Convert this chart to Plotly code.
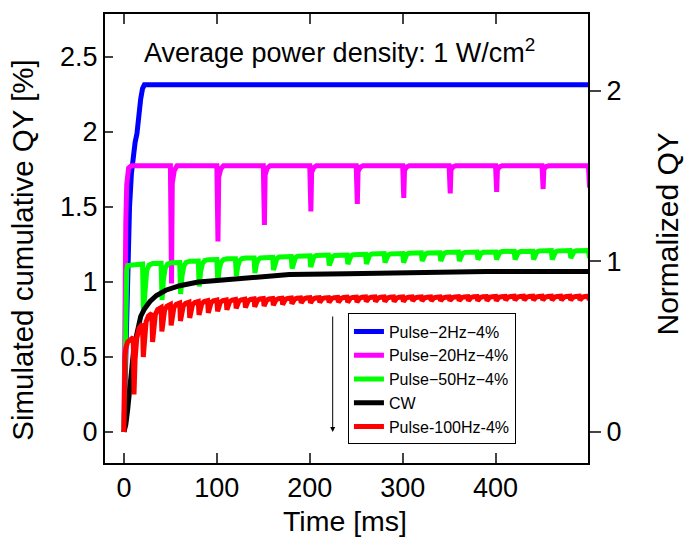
import plotly.graph_objects as go

# ---------------- data ----------------
# Pulse-2Hz-4% (single pulse within 0-500 ms)
t_2hz = [0, 1, 2, 3, 4, 5, 6, 8, 10, 12, 14, 16, 18, 20, 22, 500]
qy_2hz = [0, 0.3, 0.6, 0.9, 1.15, 1.35, 1.5, 1.72, 1.85, 1.93, 1.99, 2.12, 2.22, 2.29, 2.315, 2.315]

# Pulse-20Hz-4%: start-up, then pulses every 50 ms
t_20hz_start = [0, 0.3, 1, 2, 3, 5, 8]
qy_20hz_start = [0, 0.5, 0.95, 1.4, 1.65, 1.76, 1.775]
pulse_20hz = [50, 100, 150, 200, 250, 300, 350, 400, 450, 500]
peak_20hz = [1.775] * 10
dip_20hz = [0.99, 1.27, 1.38, 1.47, 1.52, 1.56, 1.59, 1.60, 1.62, 1.63]

# Pulse-50Hz-4%: pulses every 20 ms
t_50hz_start = [0, 0.3, 1, 2, 3, 4]
qy_50hz_start = [0, 0.15, 0.72, 0.95, 1.08, 1.11]
pulse_50hz = list(range(20, 501, 20))
peak_50hz = [1.12, 1.125, 1.13, 1.14, 1.15, 1.155, 1.16, 1.165, 1.17, 1.175,
             1.18, 1.18, 1.185, 1.19, 1.19, 1.195, 1.195, 1.2, 1.2, 1.2,
             1.205, 1.205, 1.21, 1.21, 1.21]
dip_50hz = [0.80, 0.88, 0.92, 0.97, 1.0, 1.04, 1.06, 1.08, 1.09, 1.10,
            1.11, 1.12, 1.12, 1.13, 1.13, 1.14, 1.14, 1.14, 1.15, 1.15,
            1.15, 1.15, 1.15, 1.16, 1.16]

# CW
t_cw = [0, 2, 4, 6, 8, 10, 12, 15, 18, 22, 28, 35, 45, 60, 80, 100, 135, 178, 240, 300, 388, 390, 500]
qy_cw = [0, 0.05, 0.15, 0.3, 0.42, 0.52, 0.6, 0.7, 0.77, 0.82, 0.87, 0.91, 0.945, 0.975, 1.0,
         1.01, 1.03, 1.05, 1.055, 1.06, 1.062, 1.07, 1.07]

# Pulse-100Hz-4%: pulses every 10 ms
t_100hz_start = [0, 0.4, 1, 2, 4]
qy_100hz_start = [0, 0.35, 0.5, 0.56, 0.6]
pulse_100hz = list(range(10, 501, 10))
peak_100hz = [0.63, 0.72, 0.79, 0.83, 0.85, 0.86, 0.865, 0.87, 0.875, 0.88,
              0.88, 0.883, 0.885, 0.887, 0.89, 0.89, 0.892, 0.893, 0.894, 0.895,
              0.895, 0.896, 0.897, 0.898, 0.899, 0.9, 0.9, 0.9, 0.9, 0.9,
              0.9, 0.9, 0.9, 0.9, 0.9, 0.902, 0.902, 0.903, 0.903, 0.904,
              0.904, 0.905, 0.905, 0.905, 0.905, 0.905, 0.905, 0.905, 0.905, 0.905]
dip_100hz = [0.25, 0.5, 0.6, 0.67, 0.71, 0.74, 0.76, 0.78, 0.795, 0.805,
             0.815, 0.825, 0.83, 0.835, 0.84, 0.845, 0.85, 0.855, 0.86, 0.86,
             0.865, 0.865, 0.865, 0.865, 0.865, 0.87, 0.87, 0.87, 0.87, 0.87,
             0.875, 0.875, 0.875, 0.875, 0.875, 0.875, 0.875, 0.875, 0.875, 0.875,
             0.88, 0.88, 0.88, 0.88, 0.88, 0.88, 0.88, 0.88, 0.88, 0.88]

x_ticks = [0, 100, 200, 300, 400]
y_ticks = [0, 0.5, 1, 1.5, 2, 2.5]
y2_ticks = [0, 1, 2]
norm_factor = 150 / 170.5  # ratio of right-axis to left-axis units

names = ["Pulse\u22122Hz\u22124%", "Pulse\u221220Hz\u22124%", "Pulse\u221250Hz\u22124%", "CW", "Pulse-100Hz-4%"]
colors = ["#0000FF", "#FF00FF", "#00FF00", "#000000", "#FF0000"]


def pulsed(t0, y0, times, peaks, dips, on, shape):
    """Polyline: start-up values, then at each pulse a drop to the read dip
    value and a recovery towards the read value before the next pulse."""
    t, y = list(t0), list(y0)
    for i, tn in enumerate(times):
        p = peaks[i]
        m = dips[i]
        q = peaks[i + 1] if i + 1 < len(peaks) else p
        t.append(tn)
        y.append(p)
        t.append(tn + on)
        y.append(m)
        for dt, frac in shape:
            t.append(tn + on + dt)
            y.append(m + frac * (q - m))
    return t, y


t20, y20 = pulsed(t_20hz_start, qy_20hz_start, pulse_20hz, peak_20hz, dip_20hz, 1.2,
                  [(0.8, 0.85), (3.0, 0.96), (6.0, 1.0)])
t50, y50 = pulsed(t_50hz_start, qy_50hz_start, pulse_50hz, peak_50hz, dip_50hz, 1.0,
                  [(1.5, 0.55), (3.5, 0.85), (6.0, 0.96), (10.0, 0.995)])
t100, y100 = pulsed(t_100hz_start, qy_100hz_start, pulse_100hz, peak_100hz, dip_100hz, 0.8,
                    [(1.2, 0.5), (3.0, 0.8), (5.5, 0.94)])

series = [(t_2hz, qy_2hz), (t20, y20), (t50, y50), (t_cw, qy_cw), (t100, y100)]

fig = go.Figure()
for (tx, ty), nm, c in zip(series, names, colors):
    fig.add_trace(go.Scatter(x=tx, y=ty, mode="lines", name=nm,
                             line=dict(color=c, width=5)))
# invisible trace to activate right axis
fig.add_trace(go.Scatter(x=[0], y=[0], yaxis="y2", mode="markers",
                         marker=dict(opacity=0), showlegend=False, hoverinfo="skip"))

font_family = "Liberation Sans, Arial, sans-serif"
y_range = [-0.207, 2.787]

fig.update_layout(
    width=684, height=537,
    margin=dict(l=105, r=96, t=14, b=74, autoexpand=False),
    paper_bgcolor="white", plot_bgcolor="white",
    font=dict(family=font_family, color="black", size=28),
    xaxis=dict(range=[-20.4, 499.5], tickvals=x_ticks, ticks="inside", ticklen=10, tickwidth=2,
               showline=True, linewidth=2, linecolor="black", mirror="ticks", automargin=False,
               showgrid=False, zeroline=False, tickfont=dict(size=27)),
    yaxis=dict(range=y_range, tickvals=y_ticks, ticks="inside", ticklen=8, tickwidth=2,
               showline=True, linewidth=2, linecolor="black", showgrid=False, zeroline=False,
               automargin=False, tickfont=dict(size=27)),
    yaxis2=dict(range=[y_range[0] * norm_factor, y_range[1] * norm_factor], tickvals=y2_ticks,
                overlaying="y", side="right", ticks="outside", ticklen=11, tickwidth=2,
                showline=True, linewidth=2, linecolor="black", showgrid=False, zeroline=False,
                automargin=False, tickfont=dict(size=27)),
    legend=dict(x=0.503, y=0.333, xanchor="left", yanchor="top", bgcolor="white",
                bordercolor="black", borderwidth=1, font=dict(size=16), itemwidth=30,
                tracegroupgap=0),
    showlegend=True,
)

fig.add_annotation(text="Average power density: 1 W/cm<sup>2</sup>", xref="paper", yref="paper",
                   x=0.4855, y=0.9176, xanchor="center", yanchor="middle", showarrow=False,
                   font=dict(size=27))
fig.add_annotation(text="Simulated cumulative QY [%]", xref="paper", yref="paper",
                   x=-0.1698, y=0.475, xanchor="center", yanchor="middle", textangle=-90,
                   showarrow=False, font=dict(size=29.5))
fig.add_annotation(text="Normalized QY", xref="paper", yref="paper",
                   x=1.1646, y=0.51, xanchor="center", yanchor="middle", textangle=-90,
                   showarrow=False, font=dict(size=30))
fig.add_annotation(text="Time [ms]", xref="paper", yref="paper",
                   x=0.4969, y=-0.129, xanchor="center", yanchor="middle",
                   showarrow=False, font=dict(size=28.5))
fig.add_annotation(x=224.7, y=0, ax=224.7, ay=0.78, xref="x", yref="y", axref="x", ayref="y",
                   text="", showarrow=True, arrowhead=2, arrowsize=1, arrowwidth=1,
                   arrowcolor="black")

fig.write_html("out.html", config={"displayModeBar": False},
               post_script="document.body.style.margin='0px';")
